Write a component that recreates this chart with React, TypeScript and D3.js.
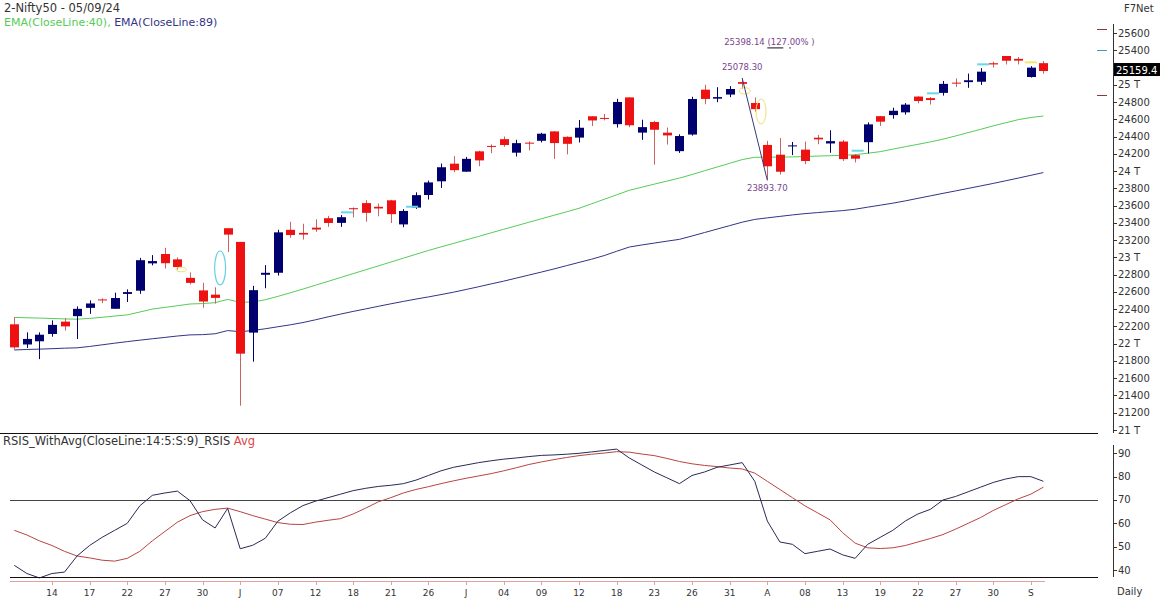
import React from 'react';
import * as d3 from 'd3';

// ---- data (Nifty50 daily, 09 May 2024 – 05 Sep 2024) ----
const dates = [
  '2024-05-09','2024-05-10','2024-05-13','2024-05-14','2024-05-15','2024-05-16','2024-05-17','2024-05-18','2024-05-21','2024-05-22',
  '2024-05-23','2024-05-24','2024-05-27','2024-05-28','2024-05-29','2024-05-30','2024-05-31','2024-06-03','2024-06-04','2024-06-05',
  '2024-06-06','2024-06-07','2024-06-10','2024-06-11','2024-06-12','2024-06-13','2024-06-14','2024-06-18','2024-06-19','2024-06-20',
  '2024-06-21','2024-06-24','2024-06-25','2024-06-26','2024-06-27','2024-06-28','2024-07-01','2024-07-02','2024-07-03','2024-07-04',
  '2024-07-05','2024-07-08','2024-07-09','2024-07-10','2024-07-11','2024-07-12','2024-07-15','2024-07-16','2024-07-18','2024-07-19',
  '2024-07-22','2024-07-23','2024-07-24','2024-07-25','2024-07-26','2024-07-29','2024-07-30','2024-07-31','2024-08-01','2024-08-02',
  '2024-08-05','2024-08-06','2024-08-07','2024-08-08','2024-08-09','2024-08-12','2024-08-13','2024-08-14','2024-08-16','2024-08-19',
  '2024-08-20','2024-08-21','2024-08-22','2024-08-23','2024-08-26','2024-08-27','2024-08-28','2024-08-29','2024-08-30','2024-09-02',
  '2024-09-03','2024-09-04','2024-09-05'
];
const opens = [
  22224.8,21990.95,22027.95,22112.9,22255.6,22319.2,22415.25,22512.85,22404.55,22576.6,
  22614.1,22930.75,23038.95,22977.15,22762.75,22617.45,22568.1,23337.9,23179.5,22128.35,
  22798.6,22821.85,23319.15,23283.75,23344.45,23453.9,23399.9,23570.0,23629.05,23586.15,
  23661.15,23382.3,23577.1,23723.1,23881.55,24085.9,23992.95,24228.75,24291.75,24369.95,
  24213.35,24329.45,24351.0,24459.85,24396.55,24387.95,24635.05,24615.9,24543.8,24853.8,
  24445.75,24568.9,24444.95,24230.95,24423.35,24943.3,24839.4,24886.7,25030.95,24789.0,
  24302.85,24189.85,24289.4,24248.55,24386.85,24320.05,24342.35,24184.4,24334.85,24636.35,
  24648.9,24680.55,24863.4,24845.4,24906.1,25024.8,25030.8,25035.3,25249.7,25333.6,
  25300.45,25089.95,25250.5
];
const highs = [
  22307.75,22131.3,22131.65,22270.05,22297.55,22432.25,22502.15,22525.65,22591.1,22629.5,
  22993.6,23026.4,23110.8,23000.05,22825.5,22705.75,22653.75,23338.7,23179.5,22670.4,
  22910.15,23320.2,23411.9,23389.45,23441.95,23481.05,23490.4,23579.05,23664.0,23624.0,
  23667.1,23558.65,23754.15,23889.9,24087.45,24174.0,24164.0,24236.35,24309.15,24401.0,
  24363.0,24344.6,24443.6,24461.05,24402.65,24592.2,24635.7,24661.25,24837.75,24854.8,
  24595.2,24582.55,24504.25,24426.15,24861.15,24999.75,24971.75,24984.6,25078.3,24851.9,
  24350.05,24382.6,24337.7,24340.5,24419.75,24472.8,24359.95,24196.5,24563.9,24638.8,
  24734.3,24787.95,24867.35,24858.4,25043.8,25073.1,25129.6,25192.9,25268.35,25333.65,
  25321.7,25216.0,25275.45
];
const lows = [
  21932.4,21950.3,21821.05,22081.25,22151.75,22054.55,22345.65,22470.25,22404.55,22483.05,
  22577.45,22908.0,22871.2,22858.5,22685.45,22417.0,22465.1,23062.3,21281.45,21791.95,
  22642.6,22789.05,23227.2,23206.65,23295.95,23353.85,23353.6,23464.2,23412.9,23476.0,
  23398.2,23350.0,23562.05,23670.5,23805.4,23985.8,23992.7,24056.4,24207.1,24281.0,
  24168.85,24240.55,24331.9,24141.8,24193.75,24331.15,24522.15,24587.65,24504.45,24508.15,
  24362.3,24074.2,24307.25,24210.8,24410.9,24774.6,24798.65,24856.5,24956.4,24686.85,
  23893.7,23960.4,24184.9,24079.7,24311.2,24212.1,24116.5,24099.7,24204.5,24522.95,
  24607.2,24654.5,24784.45,24771.65,24874.7,24973.65,24964.65,24998.5,25199.4,25235.5,
  25235.8,25083.8,25127.75
];
const closes = [
  21957.5,22055.2,22104.05,22217.85,22200.55,22403.85,22466.1,22502.0,22529.05,22597.8,
  22967.65,22957.1,22932.45,22888.15,22704.7,22488.65,22530.7,23263.9,21884.5,22620.35,
  22821.4,23290.15,23259.2,23264.85,23322.95,23398.9,23465.6,23557.9,23516.0,23567.0,
  23501.1,23537.85,23721.3,23868.8,24044.5,24010.6,24141.95,24123.85,24286.5,24302.15,
  24323.85,24320.55,24433.2,24324.45,24315.95,24502.15,24586.7,24613.0,24800.85,24530.9,
  24509.25,24479.05,24413.5,24406.1,24834.85,24836.1,24857.3,24951.15,25010.9,24717.7,
  24055.6,23992.55,24297.5,24117.0,24367.5,24347.0,24139.0,24143.75,24541.15,24572.65,
  24698.85,24770.2,24811.5,24823.15,25010.6,25017.75,25052.35,25151.95,25235.9,25278.7,
  25279.85,25198.7,25159.4
];
const ema40 = [
  22305,22300,22297,22292,22287,22284,22293,22306,22320,22334,
  22367,22401,22421,22440,22460,22465,22475,22513,22480,22484,
  22509,22548,22590,22633,22678,22722,22767,22812,22856,22901,
  22946,22991,23036,23080,23122,23162,23203,23243,23285,23326,
  23366,23407,23447,23488,23528,23569,23621,23673,23725,23777,
  23813,23849,23884,23919,23960,24004,24047,24090,24133,24160,
  24161,24162,24164,24169,24174,24178,24183,24190,24207,24225,
  24254,24283,24310,24338,24370,24407,24446,24484,24524,24560,
  24596,24621,24638
];
const ema89 = [
  21927,21933,21937,21942,21948,21952,21968,21987,22006,22024,
  22041,22057,22073,22089,22102,22105,22115,22152,22139,22153,
  22173,22196,22219,22245,22277,22311,22343,22374,22403,22433,
  22462,22490,22517,22542,22569,22597,22628,22660,22693,22725,
  22760,22795,22830,22866,22904,22942,22979,23021,23071,23120,
  23144,23166,23188,23209,23248,23288,23328,23368,23408,23440,
  23458,23475,23492,23507,23519,23531,23542,23558,23582,23605,
  23628,23655,23684,23713,23742,23770,23799,23828,23857,23888,
  23919,23951,23983
];
const rsi = [
  42,38.5,36.6,38.5,39.1,46,50.5,54,57,60,
  67.5,72,73,73.8,69.7,61.5,58,66.4,49.1,50.6,
  53.6,60.9,64.5,67.6,69.5,71,72.5,74,75,75.8,
  76.3,77,78.5,80.5,82.5,84,85,86,86.8,87.5,
  88,88.6,89.1,89.3,89.6,90,90.6,91.2,91.8,88,
  85,82,79.5,77,80.5,82,84,85,86,78,
  61,52,51,47,48,49,46.5,45,51,54,
  57,61,64,66,70,71.5,73.5,75.5,77.5,79,
  80,80,78
];
const rsiAvg = [
  57,55,52.5,50.5,48,46,45.2,44.2,43.8,45,
  48,52.5,56.5,60.5,63.3,65,66,66.5,65,63.3,
  61.8,60.3,59.6,59.5,60.5,61.3,62,64,66.5,69.2,
  71,73,74.5,75.7,77,78.2,79.3,80.3,81.3,82.5,
  83.8,85.2,86.3,87.3,88.2,89,89.6,90.1,90.7,90.5,
  89.7,89,87.8,86.5,85.5,84.8,84.3,83.7,83.3,81.5,
  78,74.5,71,67.5,64.5,61.5,56,51.5,49.5,49.2,
  49.5,50.5,52,53.5,55.2,57.5,60,62.5,65.5,68,
  70.5,72.5,75.5
];
const xTickLabels = ['14','17','22','27','30','J','07','12','18','21','26','J','04','09','12','18','23','26','31','A','08','13','19','22','27','30','S'];
const priceTicks = d3.range(21000, 25601, 200);
const rsiTicks = [40, 50, 60, 70, 80, 90];
const lastPrice = 25159.4;
// annotation: swing high / low and 127% extension
const swingHighIdx = 58, swingHigh = 25078.30;
const swingLowIdx = 60, swingLow = 23893.70;
const extLevel = 25398.14, extPct = '127.00%';
// pattern markers [index, price]
const cyanDashes = [[26.5, 23522], [31.7, 23587], [67.2, 24236], [73.2, 24901], [77.2, 25237]];
const yellowDashes = [[81.0, 25260]];
const yellowEllipses = [[13.3, 22860, 5, 2.3], [58.2, 24930, 5.5, 3.2], [59.5, 24690, 5, 12.5]];
const cyanEllipses = [[16.4, 22877, 5.5, 17]];
const sideMarks = [[25650, '#8a3a3a'], [25398.14, '#3a9ac8'], [24880, '#8a3a3a']];

const FONT = 'DejaVu Sans, Verdana, sans-serif';

export default function App() {
  const n = closes.length;
  const x = d3.scaleLinear().domain([0, n - 1]).range([14.3, 1043.4]);
  const y = d3.scaleLinear().domain([21000, 25600]).range([430, 33]);
  const ry = d3.scaleLinear().domain([40, 90]).range([570, 453.3]);
  const axisX = 1113;
  const lineP = d3.line<number>().x((_, i) => x(i)).y(d => y(d));
  const lineR = d3.line<number>().x((_, i) => x(i)).y(d => ry(d));
  const UP = '#00006e', DOWN = '#ee1111', DOWNWICK = '#c86464';
  const PURPLE = '#7b3f8f';

  const fmtPrice = (v: number) => (v % 1000 === 0 ? `${v / 1000} T` : `${v}`);
  const tickIdx = xTickLabels.map((_, k) => 3 + 3 * k);
  // labels hidden behind the last-price box are not drawn
  const visiblePriceTicks = priceTicks.filter(v => Math.abs(y(v) - y(lastPrice)) > 9);

  return (
    <svg width={1160} height={600} style={{ position: 'absolute', left: 0, top: 0, background: '#fff' }} fontFamily={FONT}>
      <rect x={0} y={0} width={1160} height={600} fill="#fff" />
      {/* header */}
      <text x={4} y={12} fontSize={11.5} fill="#333">2-Nifty50 - 05/09/24</text>
      <text x={4} y={26} fontSize={11}>
        <tspan fill="#55cc55">EMA(CloseLine:40), </tspan>
        <tspan fill="#333388">EMA(CloseLine:89)</tspan>
      </text>
      <text x={1124} y={12} fontSize={10} fill="#333">F7Net</text>

      {/* EMA lines */}
      <path d={lineP(ema40) || ''} fill="none" stroke="#55cc55" strokeWidth={1} />
      <path d={lineP(ema89) || ''} fill="none" stroke="#333388" strokeWidth={1} />

      {/* candles */}
      {closes.map((c, i) => {
        const o = opens[i];
        const up = c >= o;
        const cx = Math.round(x(i)) + 0.5;
        const top = y(Math.max(o, c));
        const bot = y(Math.min(o, c));
        const h = Math.max(1, bot - top);
        return (
          <g key={dates[i]}>
            <line x1={cx} x2={cx} y1={y(highs[i])} y2={y(lows[i])} stroke={up ? UP : DOWNWICK} strokeWidth={1} />
            <rect x={cx - 4.5} y={top} width={9} height={h} fill={up ? UP : DOWN} />
          </g>
        );
      })}

      {/* pattern markers */}
      {cyanDashes.map(([i, p], k) => (
        <line key={'cd' + k} x1={x(i) - 6} x2={x(i) + 6} y1={y(p)} y2={y(p)} stroke="#66d8e8" strokeWidth={2} />
      ))}
      {yellowDashes.map(([i, p], k) => (
        <line key={'yd' + k} x1={x(i) - 6} x2={x(i) + 6} y1={y(p)} y2={y(p)} stroke="#f0e870" strokeWidth={2} />
      ))}
      {yellowEllipses.map(([i, p, rx, ryy], k) => (
        <ellipse key={'ye' + k} cx={x(i)} cy={y(p)} rx={rx} ry={ryy} fill="none" stroke="#eee070" strokeWidth={1} />
      ))}
      {cyanEllipses.map(([i, p, rx, ryy], k) => (
        <ellipse key={'ce' + k} cx={x(i)} cy={y(p)} rx={rx} ry={ryy} fill="none" stroke="#66d0e0" strokeWidth={1.2} />
      ))}

      {/* swing annotation */}
      <line x1={x(swingHighIdx)} y1={y(swingHigh)} x2={x(swingLowIdx)} y2={y(swingLow)} stroke="#3a3a7a" strokeWidth={1} />
      <text x={x(swingHighIdx)} y={y(swingHigh) - 8} fontSize={8.5} fill={PURPLE} textAnchor="middle">{swingHigh.toFixed(2)}</text>
      <text x={x(swingLowIdx)} y={y(swingLow) + 11} fontSize={8.5} fill={PURPLE} textAnchor="middle">{swingLow.toFixed(2)}</text>
      <text x={x(swingHighIdx) - 18} y={y(extLevel) - 5} fontSize={8.5} fill={PURPLE}>{`${extLevel.toFixed(2)} (${extPct} )`}</text>
      <line x1={x(swingLowIdx)} x2={x(swingLowIdx) + 16} y1={y(extLevel) - 2.5} y2={y(extLevel) - 2.5} stroke="#111" strokeWidth={1} />
      <rect x={x(swingLowIdx) + 22} y={y(extLevel) - 3} width={1.5} height={1} fill="#111" />

      {/* price axis */}
      <line x1={axisX + 0.5} x2={axisX + 0.5} y1={24} y2={433} stroke="#333" />
      {priceTicks.map(v => (
        <line key={'ptl' + v} x1={axisX} x2={axisX + 4} y1={Math.round(y(v)) + 0.5} y2={Math.round(y(v)) + 0.5} stroke="#333" />
      ))}
      {visiblePriceTicks.map(v => (
        <text key={'pt' + v} x={axisX + 5} y={y(v) + 3.5} fontSize={10} fill="#333">{fmtPrice(v)}</text>
      ))}
      <rect x={axisX + 1} y={y(lastPrice) - 8} width={47} height={13} fill="#000" />
      <text x={axisX + 3} y={y(lastPrice) + 2.5} fontSize={10} fill="#fff">{lastPrice.toFixed(1)}</text>
      {sideMarks.map(([p, col], k) => (
        <line key={'sm' + k} x1={1097} x2={1107} y1={Math.round(y(p as number)) + 0.5} y2={Math.round(y(p as number)) + 0.5} stroke={col as string} strokeWidth={1} />
      ))}

      {/* separator */}
      <line x1={0} x2={1098} y1={433.5} y2={433.5} stroke="#111" />

      {/* RSI panel */}
      <text x={3} y={445} fontSize={11.5} fill="#333">
        <tspan>RSIS_WithAvg(CloseLine:14:5:S:9)_RSIS </tspan>
        <tspan fill="#dd4444">Avg</tspan>
      </text>
      <line x1={10} x2={1098} y1={Math.round(ry(70)) + 0.5} y2={Math.round(ry(70)) + 0.5} stroke="#444" />
      <path d={lineR(rsiAvg) || ''} fill="none" stroke="#b84444" strokeWidth={1} />
      <path d={lineR(rsi) || ''} fill="none" stroke="#2a2a55" strokeWidth={1} />
      <line x1={10} x2={1098} y1={577.5} y2={577.5} stroke="#111" />
      <line x1={axisX + 0.5} x2={axisX + 0.5} y1={445} y2={577} stroke="#333" />
      {rsiTicks.map(v => (
        <g key={'rt' + v}>
          <line x1={axisX} x2={axisX + 4} y1={Math.round(ry(v)) + 0.5} y2={Math.round(ry(v)) + 0.5} stroke="#333" />
          <text x={axisX + 5} y={ry(v) + 3.5} fontSize={10} fill="#333">{v}</text>
        </g>
      ))}

      {/* time axis */}
      <line x1={10} x2={1045} y1={581.5} y2={581.5} stroke="#e0a0a0" />
      {tickIdx.map((ti, k) => (
        <g key={'xt' + k}>
          <line x1={Math.round(x(ti)) + 0.5} x2={Math.round(x(ti)) + 0.5} y1={582} y2={585} stroke="#e0a0a0" />
          <text x={x(ti)} y={596} fontSize={9} fill="#333" textAnchor="middle">{xTickLabels[k]}</text>
        </g>
      ))}
      <text x={1117} y={595} fontSize={10} fill="#333">Daily</text>
    </svg>
  );
}
